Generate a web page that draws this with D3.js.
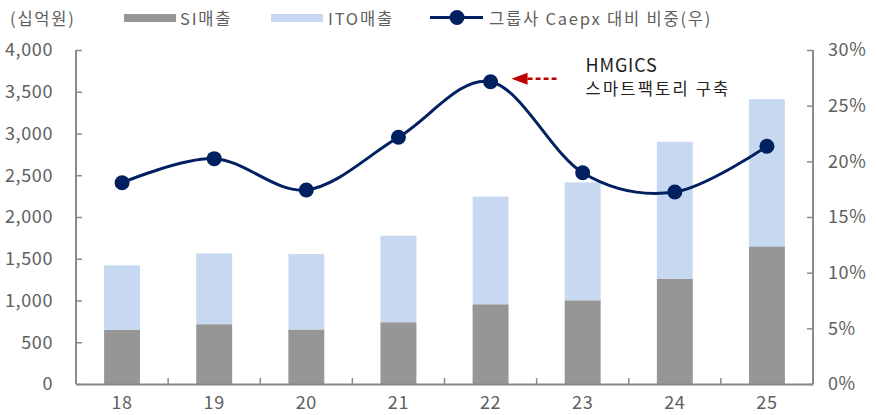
<!DOCTYPE html>
<html><head><meta charset="utf-8">
<script src="https://cdn.jsdelivr.net/npm/d3@7"></script>
<style>
html,body{margin:0;padding:0;background:#fff;}
svg{display:block;}
text{font-family:"Noto Sans CJK KR","Liberation Sans",sans-serif;}
</style></head>
<body>
<svg id="c" width="876" height="415"></svg>
<script>
const categories = ["18","19","20","21","22","23","24","25"];
const siSales = [649, 716, 653, 740, 955, 1003, 1262, 1648];
const itoSales = [772, 848, 903, 1036, 1290, 1412, 1639, 1763];
const capexShare = [18.08, 20.24, 17.43, 22.16, 27.15, 18.98, 17.25, 21.35];
const leftTicks = [0, 500, 1000, 1500, 2000, 2500, 3000, 3500, 4000];
const rightTicks = [0, 5, 10, 15, 20, 25, 30];
const legendLabels = ["SI매출", "ITO매출", "그룹사 Caepx 대비 비중(우)"];
const unitLabel = "(십억원)";
const annotationLines = ["HMGICS", "스마트팩토리 구축"];
const annotationIndex = 4;

const svg = d3.select("#c");
const L = 76, R = 813, T = 50, B = 384;
const x = d3.scaleBand().domain(categories).range([L, R]).padding(0);
const yL = d3.scaleLinear().domain([0, 4000]).range([B, T]);
const yR = d3.scaleLinear().domain([0, 30]).range([B, T]);
const barW = x.bandwidth() * 0.39;
const axisColor = "#8a8a8a", labelColor = "#606060";
const cSI = "#969696", cITO = "#c6d9f0", cLine = "#002060";
const latin = "'Liberation Sans',Arial,sans-serif";

// bars
const g = svg.append("g");
categories.forEach((c, i) => {
  const cx = x(c) + x.bandwidth() / 2;
  g.append("rect").attr("x", cx - barW / 2).attr("width", barW)
    .attr("y", yL(siSales[i])).attr("height", yL(0) - yL(siSales[i])).attr("fill", cSI);
  g.append("rect").attr("x", cx - barW / 2).attr("width", barW)
    .attr("y", yL(siSales[i] + itoSales[i])).attr("height", yL(siSales[i]) - yL(siSales[i] + itoSales[i])).attr("fill", cITO);
});

// axes
const axL = d3.axisLeft(yL).tickValues(leftTicks).tickSize(-6).tickPadding(23).tickFormat(d3.format(","));
const gL = svg.append("g").attr("transform", `translate(${L},0)`).call(axL);
const axR = d3.axisRight(yR).tickValues(rightTicks).tickSize(-6).tickPadding(15).tickFormat(d => d + "%");
const gR = svg.append("g").attr("transform", `translate(${R},0)`).call(axR);
const axB = d3.axisBottom(x).tickSize(0).tickPadding(12);
const gB = svg.append("g").attr("transform", `translate(0,${B})`).call(axB);
// category boundary ticks on x axis (inward)
const gBt = svg.append("g");
categories.slice(1).forEach(c => {
  gBt.append("line").attr("x1", x(c)).attr("x2", x(c)).attr("y1", B).attr("y2", B - 6)
    .attr("stroke", axisColor).attr("stroke-width", 1.5);
});
[gL, gR, gB].forEach(a => {
  a.selectAll(".domain").attr("stroke", axisColor).attr("stroke-width", 2);
  a.selectAll(".tick line").attr("stroke", axisColor).attr("stroke-width", 1.5);
  a.selectAll("text").attr("fill", labelColor).attr("font-size", 18)
    .attr("font-family", latin).attr("letter-spacing", 0.6);
});
gL.selectAll(".tick line").attr("x2", 6);
gR.selectAll(".tick line").attr("x2", -6);
gL.select(".domain").attr("d", `M0,${T}V${B}`);
gR.select(".domain").attr("d", `M0,${T}V${B}`);
gL.selectAll(".tick text").attr("x", -23);

// line
const pts = categories.map((c, i) => [x(c) + x.bandwidth() / 2, yR(capexShare[i])]);
svg.append("path").attr("d", d3.line().curve(d3.curveCardinal.tension(0))(pts))
  .attr("fill", "none").attr("stroke", cLine).attr("stroke-width", 3);
svg.append("g").selectAll("circle").data(pts).join("circle")
  .attr("cx", d => d[0]).attr("cy", d => d[1]).attr("r", 7.5).attr("fill", cLine);

// annotation
const ap = pts[annotationIndex];
const arrowY = ap[1] - 3;
svg.append("line").attr("x1", ap[0] + 37).attr("x2", ap[0] + 68).attr("y1", arrowY).attr("y2", arrowY)
  .attr("stroke", "#c00000").attr("stroke-width", 2.5).attr("stroke-dasharray", "5,3");
svg.append("path").attr("d", `M${ap[0] + 21},${arrowY}L${ap[0] + 37},${arrowY - 6}L${ap[0] + 37},${arrowY + 6}Z`)
  .attr("fill", "#c00000");
svg.append("text").attr("x", ap[0] + 95).attr("y", 72).attr("fill", "#222").attr("font-size", 18)
  .attr("font-family", latin).attr("letter-spacing", 0.8).text(annotationLines[0]);
svg.append("text").attr("x", ap[0] + 95).attr("y", 95).attr("fill", "#222").attr("font-size", 16.5)
  .attr("letter-spacing", 2.2).text(annotationLines[1]);

// legend
const lg = svg.append("g");
const legText = (xx, t) => lg.append("text").attr("x", xx).attr("y", 17.5).attr("dominant-baseline", "central")
  .attr("fill", labelColor).attr("font-size", 16.5).attr("letter-spacing", 1.8).text(t);
legText(10, unitLabel);
lg.append("rect").attr("x", 124).attr("y", 14).attr("width", 52).attr("height", 8).attr("fill", cSI);
legText(180, legendLabels[0]);
lg.append("rect").attr("x", 271).attr("y", 14).attr("width", 52).attr("height", 8).attr("fill", cITO);
legText(328, legendLabels[1]);
lg.append("line").attr("x1", 430).attr("x2", 483).attr("y1", 17.5).attr("y2", 17.5).attr("stroke", cLine).attr("stroke-width", 3);
lg.append("circle").attr("cx", 457).attr("cy", 17.5).attr("r", 7.5).attr("fill", cLine);
legText(489, legendLabels[2]);
</script>
</body></html>
